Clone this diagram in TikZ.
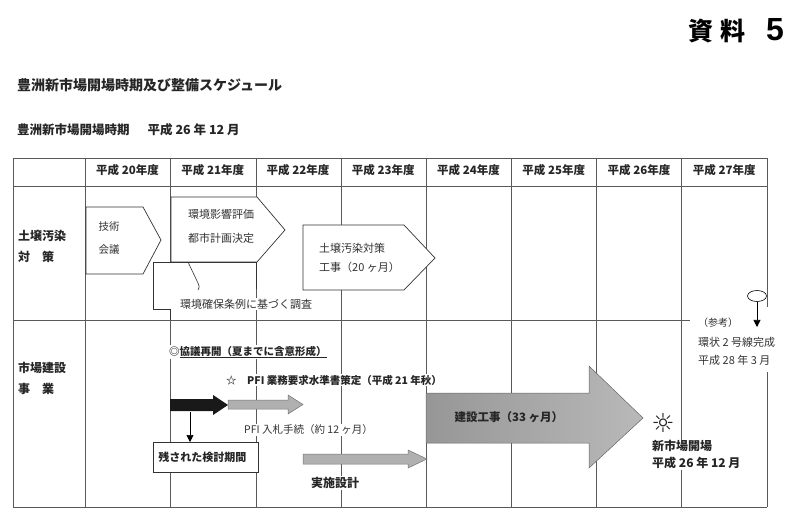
\documentclass[tikz,border=0pt]{standalone}
\usepackage{fontspec}
\setmainfont{Noto Sans CJK JP}
\newfontfamily\symfont{DejaVu Sans}
\newfontfamily\digitfont{Liberation Sans}
\usetikzlibrary{arrows.meta,positioning,shapes.geometric}

\begin{document}
\begin{tikzpicture}[
  x=1pt, y=-1pt,
  grid/.style={draw=black!65, line width=0.6pt},
  yearhead/.style={font=\fontsize{11.5}{12}\selectfont\bfseries, text=black!85},
  rowhead/.style={font=\fontsize{12}{21}\selectfont\bfseries, align=left,
                  anchor=west, text=black!85, inner sep=0pt},
  note/.style={font=\fontsize{11}{16}\selectfont, align=left, text=black!80,
               fill=white, inner sep=1pt},
  plan/.style={font=\fontsize{10.5}{16}\selectfont\bfseries, align=left,
               anchor=west, text=black!85, fill=white, inner sep=1pt},
  chevron/.style={draw=black!80, fill=white, line width=0.7pt},
  bararrow/.style={draw=black!55, fill=gray!62, line width=0.5pt},
  arr/.style={-{Triangle[length=7pt,width=7pt]}, line width=0.6pt},
]
  \useasboundingbox (0,0) rectangle (800,518);

  % Titles
  \node[font=\fontsize{25}{25}\selectfont\bfseries, anchor=west, inner sep=0pt]
    (doc) at (688,31) {資\hspace{7pt}料};
  \node[font=\fontsize{32}{32}\selectfont\digitfont\bfseries, anchor=west, inner sep=0pt]
    (docno) at (766,30) {5};
  \node[font=\fontsize{14}{14}\selectfont\bfseries, anchor=west, inner sep=0pt, text=black!85]
    (title) at (17,85) {豊洲新市場開場時期及び整備スケジュール};
  \node[font=\fontsize{12.5}{13}\selectfont\bfseries, anchor=west, inner sep=0pt, text=black!85]
    (opening) at (17,130) {豊洲新市場開場時期\hspace{18pt}平成 26 年 12 月};

  % Table grid
  \draw[grid] (13,158) -- (767,158);
  \draw[grid] (13,186) -- (767,186);
  \draw[grid] (13,320) -- (690,320);
  \draw[grid] (13,507) -- (767,507);
  \draw[grid] (13,158) -- (13,507);
  \draw[grid] (767,158) -- (767,307);
  \draw[grid] (767,372) -- (767,507);
  \foreach \gx in {85,170,256,341,426,511,596,681}
    \draw[grid] (\gx,158) -- (\gx,507);

  % Year headings
  \foreach \yr [count=\i from 0] in {20,...,27}
    \node[yearhead] (y\yr) at ({127.5+85.25*\i},170) {平成 \yr 年度};

  % Row headings
  \node[rowhead] (soil) at (18,246) {土壌汚染\\対\quad 策};
  \node[rowhead] (market) at (18,378) {市場建設\\事\quad 業};

  % Soil row
  \fill[white] (153,262) rectangle (256,318);
  \draw[draw=black!80, line width=0.7pt] (256,289) -- (256,262) -- (153,262)
    -- (153,309) -- (170,309) -- (170,320);
  \draw[draw=black!80, line width=0.6pt] (188,262) -- (197,281)
    .. controls (199,285) and (200,287) .. (198,290);
  \node[note, font=\fontsize{11}{16}\selectfont] (survey) at (246,304)
    {環境確保条例に基づく調査};

  \draw[chevron] (86,207) -- (143,207) -- (161,240) -- (143,274) -- (86,274) -- cycle;
  \node[note, fill=none, align=center, font=\fontsize{10.5}{23}\selectfont]
    (council) at (109,238) {技術\\会議};

  \draw[chevron] (171,197) -- (257,197) -- (285,230) -- (257,262) -- (171,262) -- cycle;
  \node[note, fill=none, align=center, font=\fontsize{11}{24}\selectfont]
    (assess) at (221,226) {環境影響評価\\都市計画決定};

  \draw[chevron] (303,225) -- (404,225) -- (435,258) -- (404,290) -- (303,290) -- cycle;
  \node[note, fill=none, anchor=west, font=\fontsize{11}{19}\selectfont]
    (works) at (318,258) {土壌汚染対策\\工事（20 ヶ月）};

  % Reference: ring road
  \node[draw, ellipse, minimum width=19pt, minimum height=11pt, inner sep=0pt,
        line width=0.6pt, fill=white] (ring) at (757,296) {};
  \coordinate (ringend) at (757,327);
  \draw[arr] (ring.south) -- (ringend);
  \node[note, font=\fontsize{10}{12}\selectfont] (ref) at (718,323) {（参考）};
  \node[note, anchor=west, font=\fontsize{11}{18}\selectfont] (ringroad) at (697,351)
    {環状 2 号線完成\\平成 28 年 3 月};

  % Market row
  \node[plan] (talks) at (168,352) {◎\underline{協議再開（夏までに含意形成）}};
  \node[plan] (pfi) at (225,380) {☆\quad PFI 業務要求水準書策定（平成 21 年秋）};

  \fill[black!90] (170,399) -- (213,399) -- (213,395) -- (228,405) -- (213,415)
    -- (213,411) -- (170,411) -- cycle;
  \draw[bararrow] (228,400) -- (288,400) -- (288,395) -- (303,404.5) -- (288,414)
    -- (288,409) -- (228,409) -- cycle;
  \node[note, anchor=west, font=\fontsize{10.5}{12}\selectfont] (bid) at (243,430)
    {PFI 入札手続（約 12 ヶ月）};

  \node[draw=black!80, fill=white, line width=0.7pt, anchor=north west,
        minimum width=105pt, minimum height=30pt, text width=95pt, align=left,
        inner xsep=5pt, font=\fontsize{11}{12}\selectfont\bfseries, text=black!85]
    (remain) at (153,442) {残された検討期間};
  \coordinate (push) at (190,412);
  \draw[arr] (push) -- (push |- remain.north);

  \draw[bararrow] (303,454) -- (408,454) -- (408,450) -- (427,459) -- (408,468)
    -- (408,464) -- (303,464) -- cycle;
  \node[plan, font=\fontsize{12}{12}\selectfont\bfseries] (design) at (310,483) {実施設計};

  \shadedraw[left color=gray!82, right color=gray!55, draw=black!60, line width=0.5pt]
    (426,393) -- (589,393) -- (589,366) -- (643,418) -- (589,468) -- (589,443)
    -- (426,443) -- cycle;
  \node[anchor=west, font=\fontsize{11.5}{12}\selectfont\bfseries, text=black!85]
    (build) at (451,417) {建設工事（33 ヶ月）};

  \node[font=\fontsize{26}{26}\selectfont\symfont, text=black!85, inner sep=0pt]
    (sun) at (663,423) {☼};
  \node[plan, font=\fontsize{12}{17}\selectfont\bfseries] (open) at (651,455)
    {新市場開場\\平成 26 年 12 月};
\end{tikzpicture}
\end{document}
